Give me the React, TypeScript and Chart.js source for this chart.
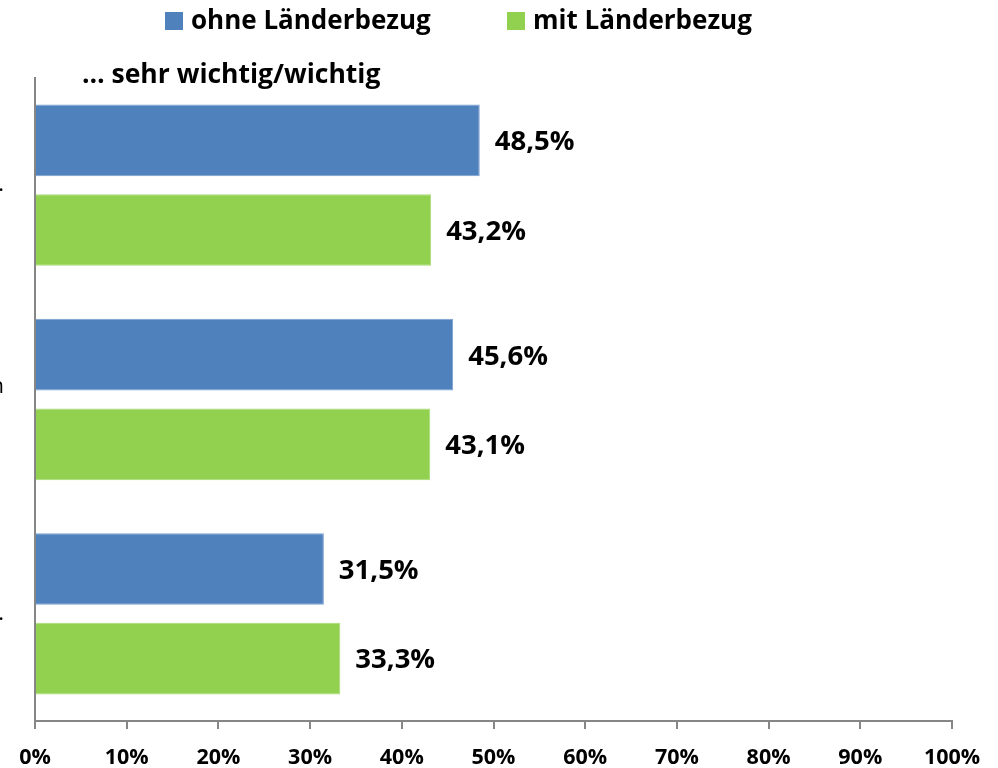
import React, { useEffect, useRef } from "react";
import { Chart, registerables } from "chart.js";

Chart.register(...registerables);

const categories: (string | string[])[] = [".", ["n", " "], "."];
const seriesNames = ["ohne Länderbezug", "mit Länderbezug"];
const ohneValues = [48.5, 45.6, 31.5];
const mitValues = [43.2, 43.1, 33.3];
const subtitle = "… sehr wichtig/wichtig";

const BLUE = "#4F81BD";
const GREEN = "#92D050";
const AXIS = "#868686";
const FONT = "'Open Sans', Lato, sans-serif";

const fmt = (v: number) => v.toFixed(1).replace(".", ",") + "%";

const overlayPlugin = {
  id: "overlay",
  afterDraw(chart: any) {
    const ctx = chart.ctx as CanvasRenderingContext2D;
    ctx.save();
    // legend
    ctx.font = `bold 26px ${FONT}`;
    ctx.textBaseline = "alphabetic";
    ctx.textAlign = "left";
    const legendStarts = [165, 507];
    chart.data.datasets.forEach((ds: any, i: number) => {
      const x = legendStarts[i];
      ctx.fillStyle = ds.backgroundColor;
      ctx.fillRect(x, 12, 18, 18);
      ctx.fillStyle = "#000";
      ctx.fillText(ds.label, x + 26, 29);
    });
    // subtitle
    ctx.font = `bold 26.5px ${FONT}`;
    ctx.fillStyle = "#000";
    ctx.fillText(subtitle, 82, 83);
    // data labels
    ctx.font = `bold 27.5px ${FONT}`;
    ctx.textBaseline = "middle";
    chart.data.datasets.forEach((ds: any, i: number) => {
      const meta = chart.getDatasetMeta(i);
      meta.data.forEach((el: any, j: number) => {
        ctx.fillText(fmt(ds.data[j]), el.x + 15, el.y + 2);
      });
    });
    ctx.restore();
  },
};

export default function App() {
  const ref = useRef<HTMLCanvasElement | null>(null);
  useEffect(() => {
    document.body.style.margin = "0";
    const chart = new Chart(ref.current as HTMLCanvasElement, {
      type: "bar",
      data: {
        labels: categories,
        datasets: [
          {
            label: seriesNames[0],
            data: ohneValues,
            backgroundColor: BLUE,
            borderColor: "#7a9fd0",
            borderWidth: 1,
            barPercentage: 0.8,
            categoryPercentage: 0.836,
          },
          {
            label: seriesNames[1],
            data: mitValues,
            backgroundColor: GREEN,
            borderColor: "#a8dc78",
            borderWidth: 1,
            barPercentage: 0.8,
            categoryPercentage: 0.836,
          },
        ],
      },
      options: {
        indexAxis: "y",
        responsive: false,
        animation: false,
        devicePixelRatio: 1,
        layout: { padding: { top: 78, right: 46, left: 0, bottom: 0 } },
        plugins: {
          legend: { display: false },
          tooltip: { enabled: false },
          title: { display: false },
        },
        scales: {
          x: {
            min: 0,
            max: 100,
            ticks: {
              stepSize: 10,
              callback: (v: any) => v + "%",
              color: "#000",
              font: { family: FONT, size: 21.5, weight: "bold" },
              padding: 16,
              maxRotation: 0,
              autoSkip: false,
            },
            grid: {
              drawOnChartArea: false,
              drawTicks: true,
              tickLength: 8,
              color: AXIS,
              lineWidth: 2,
            },
            border: { display: true, color: AXIS, width: 2 },
            afterFit: (s: any) => {
              s.height = 47;
            },
          },
          y: {
            ticks: {
              color: "#000",
              font: { family: FONT, size: 22 },
              padding: 31,
            },
            grid: { drawOnChartArea: false, drawTicks: false, color: AXIS },
            border: { display: true, color: AXIS, width: 2 },
            afterFit: (s: any) => {
              s.width = 35;
            },
          },
        },
      },
      plugins: [overlayPlugin],
    } as any);
    return () => chart.destroy();
  }, []);
  return (
    <div style={{ width: 998, height: 768 }}>
      <canvas ref={ref} width={998} height={768} />
    </div>
  );
}
